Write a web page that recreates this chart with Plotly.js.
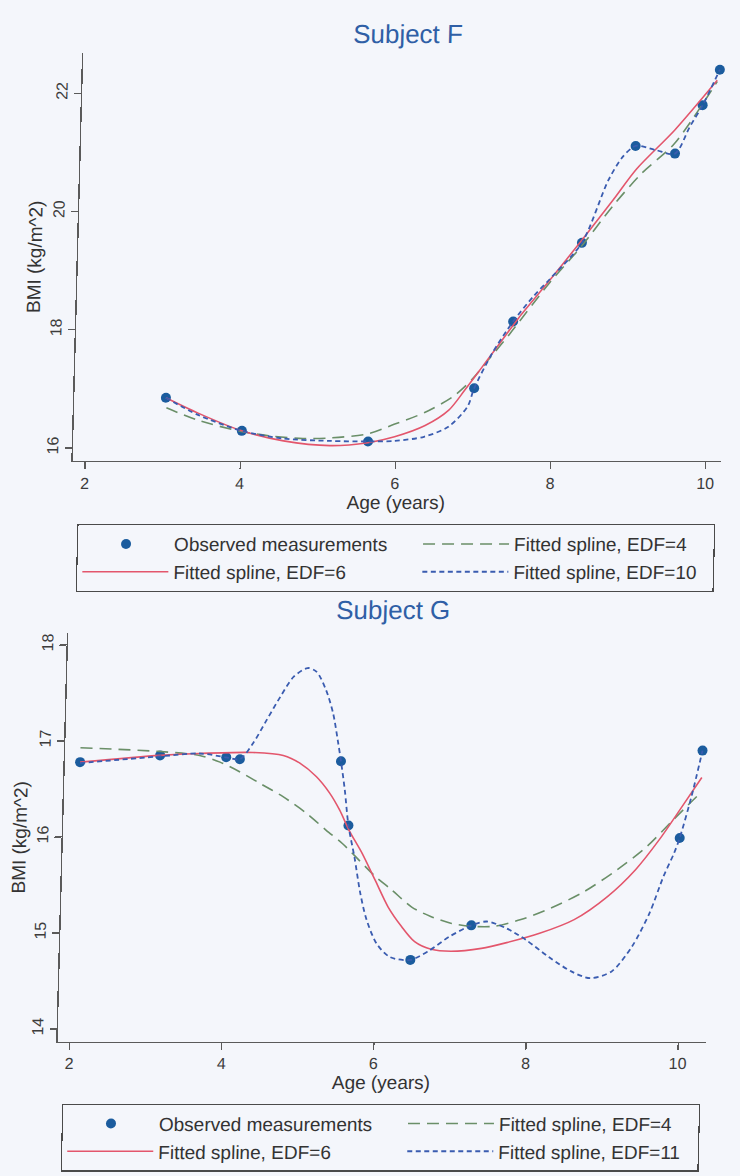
<!DOCTYPE html>
<html>
<head>
<meta charset="utf-8">
<script src="https://cdn.plot.ly/plotly-3.0.1.min.js"></script>
<style>
  html, body { margin: 0; padding: 0; background: #f4f6fb; overflow: hidden; }
  #chart { width: 740px; height: 1176px; transform: skewX(-1.49deg); transform-origin: 0 0; }
</style>
</head>
<body>
<div id="chart"></div>
<script>
// ---------- Subject F ----------
const ageF = [3.02, 4.01, 5.64, 6.99, 7.47, 8.33, 8.99, 9.50, 9.84, 10.05];
const bmiF = [16.85, 16.29, 16.11, 17.01, 18.14, 19.47, 21.11, 20.98, 21.80, 22.40];

const fitF4Age = [3.03, 3.44, 4.00, 4.40, 4.80, 5.15, 5.64, 5.97, 6.36, 6.72, 6.96, 7.20, 7.43, 7.93, 8.33, 8.72, 9.08, 9.49, 10.02];
const fitF4Bmi = [16.68, 16.47, 16.28, 16.20, 16.16, 16.17, 16.24, 16.40, 16.60, 16.87, 17.16, 17.55, 17.93, 18.80, 19.42, 20.10, 20.65, 21.15, 22.20];

const fitF6Age = [3.02, 3.44, 4.01, 4.55, 5.15, 5.64, 5.98, 6.37, 6.67, 6.87, 7.08, 7.31, 7.54, 7.93, 8.33, 8.72, 9.01, 9.49, 10.02];
const fitF6Bmi = [16.85, 16.59, 16.29, 16.12, 16.04, 16.09, 16.19, 16.38, 16.64, 16.98, 17.36, 17.78, 18.20, 18.84, 19.52, 20.20, 20.72, 21.38, 22.22];

const fitF10Age = [3.02, 3.44, 4.01, 4.55, 5.15, 5.64, 5.98, 6.36, 6.67, 6.91, 6.99, 7.21, 7.47, 7.72, 7.93, 8.33, 8.65, 8.83, 8.99, 9.25, 9.50, 9.68, 9.84, 10.05];
const fitF10Bmi = [16.85, 16.56, 16.29, 16.16, 16.12, 16.11, 16.12, 16.19, 16.36, 16.70, 17.01, 17.60, 18.14, 18.56, 18.86, 19.47, 20.53, 20.93, 21.11, 21.04, 20.98, 21.43, 21.80, 22.40];

// ---------- Subject G ----------
const ageG = [2.04, 3.09, 3.96, 4.14, 5.47, 5.59, 6.45, 7.24, 9.95, 10.22];
const bmiG = [16.78, 16.85, 16.83, 16.81, 16.79, 16.12, 14.72, 15.08, 15.99, 16.90];

const fitG4Age = [2.04, 3.09, 3.61, 3.88, 4.14, 4.41, 4.72, 5.03, 5.30, 5.52, 5.74, 5.96, 6.18, 6.45, 6.71, 6.98, 7.24, 7.54, 7.89, 8.28, 8.71, 9.14, 9.52, 9.86, 10.22];
const fitG4Bmi = [16.93, 16.89, 16.85, 16.78, 16.68, 16.56, 16.42, 16.25, 16.07, 15.93, 15.76, 15.59, 15.45, 15.27, 15.17, 15.10, 15.07, 15.07, 15.14, 15.26, 15.43, 15.66, 15.90, 16.18, 16.47];

const fitG6Age = [2.04, 3.09, 3.61, 4.31, 4.71, 4.93, 5.15, 5.33, 5.47, 5.60, 5.78, 5.96, 6.14, 6.32, 6.50, 6.72, 6.98, 7.38, 7.71, 8.15, 8.59, 9.02, 9.38, 9.68, 9.94, 10.22];
const fitG6Bmi = [16.78, 16.85, 16.87, 16.88, 16.85, 16.77, 16.63, 16.46, 16.28, 16.07, 15.83, 15.55, 15.27, 15.07, 14.91, 14.83, 14.81, 14.84, 14.90, 15.00, 15.14, 15.38, 15.66, 15.97, 16.28, 16.62];

const fitG11Age = [2.04, 3.09, 3.61, 3.96, 4.14, 4.31, 4.48, 4.65, 4.82, 5.00, 5.12, 5.25, 5.35, 5.42, 5.47, 5.53, 5.59, 5.68, 5.77, 5.86, 6.00, 6.18, 6.45, 6.70, 6.95, 7.24, 7.44, 7.70, 7.96, 8.27, 8.57, 8.82, 9.10, 9.36, 9.58, 9.75, 9.88, 9.95, 10.09, 10.22];
const fitG11Bmi = [16.77, 16.84, 16.87, 16.83, 16.81, 16.98, 17.22, 17.46, 17.67, 17.76, 17.72, 17.53, 17.29, 17.01, 16.79, 16.49, 16.12, 15.79, 15.41, 15.14, 14.89, 14.75, 14.72, 14.82, 14.96, 15.08, 15.12, 15.05, 14.93, 14.75, 14.60, 14.53, 14.60, 14.86, 15.21, 15.59, 15.83, 15.99, 16.42, 16.90];

const titles = ['Subject F', 'Subject G'];
const xTitle = 'Age (years)';
const yTitle = 'BMI (kg/m^2)';
const xTicks = [2, 4, 6, 8, 10];
const yTicksF = [16, 18, 20, 22];
const yTicksG = [14, 15, 16, 17, 18];
const nameObs = 'Observed measurements';
const namesF = ['Fitted spline, EDF=4', 'Fitted spline, EDF=6', 'Fitted spline, EDF=10'];
const namesG = ['Fitted spline, EDF=4', 'Fitted spline, EDF=6', 'Fitted spline, EDF=11'];

// ---------- styling ----------
const W = 740, H = 1176;
const BG = '#f4f6fb';
const FONT = 'Liberation Sans, Arial, Helvetica, sans-serif';
const cMarker = '#1b5c9e';
const cRed = '#e3566c';
const cGreen = '#6a8f68';
const cBlue = '#3a5cb0';
const cAxis = '#5a5a5a';
const cTitle = '#2f5fa6';

function px(x) { return x / W; }
function py(y) { return 1 - y / H; }

function obs(x, y, xa, ya, lg) {
  return { x, y, xaxis: xa, yaxis: ya, legend: lg, type: 'scatter', mode: 'markers', name: nameObs,
    marker: { color: cMarker, size: 10 }, legendwidth: 239 };
}
function fit(x, y, xa, ya, lg, name, color, dash, width, lw) {
  return { x, y, xaxis: xa, yaxis: ya, legend: lg, type: 'scatter', mode: 'lines', name,
    line: { color, dash, width, shape: 'spline', smoothing: 0.8 }, legendwidth: lw };
}

const traces = [
  obs(ageF, bmiF, 'x', 'y', 'legend'),
  fit(fitF4Age, fitF4Bmi, 'x', 'y', 'legend', namesF[0], cGreen, '12px,7px', 1.6, 194),
  fit(fitF6Age, fitF6Bmi, 'x', 'y', 'legend', namesF[1], cRed, 'solid', 1.6, 239),
  fit(fitF10Age, fitF10Bmi, 'x', 'y', 'legend', namesF[2], cBlue, '5px,3.5px', 1.8, 194),
  obs(ageG, bmiG, 'x2', 'y2', 'legend2'),
  fit(fitG4Age, fitG4Bmi, 'x2', 'y2', 'legend2', namesG[0], cGreen, '12px,7px', 1.6, 194),
  fit(fitG6Age, fitG6Bmi, 'x2', 'y2', 'legend2', namesG[1], cRed, 'solid', 1.6, 239),
  fit(fitG11Age, fitG11Bmi, 'x2', 'y2', 'legend2', namesG[2], cBlue, '5px,3.5px', 1.8, 194)
];

function xAxis(domain, range, anchor) {
  return { domain, range, anchor, tickvals: xTicks, ticks: 'outside', ticklen: 7, tickwidth: 1.2,
    tickcolor: cAxis, showline: true, linecolor: cAxis, linewidth: 1.4, showgrid: false, zeroline: false,
    tickfont: { family: FONT, size: 16, color: '#3c3c3c' },
    title: { text: xTitle, font: { family: FONT, size: 19, color: '#333' }, standoff: 4 } };
}
function yAxis(domain, range, anchor, ticks) {
  return { domain, range, anchor, tickvals: ticks, ticks: 'outside', ticklen: 7, tickwidth: 1.2,
    tickcolor: cAxis, showline: true, linecolor: cAxis, linewidth: 1.4, showgrid: false, zeroline: false,
    tickangle: -90, tickfont: { family: FONT, size: 16, color: '#3c3c3c' },
    title: { text: yTitle, font: { family: FONT, size: 19, color: '#333' }, standoff: 2 } };
}
function legendBox(top) {
  return { x: px(91), y: py(top), xanchor: 'left', yanchor: 'top', orientation: 'h',
    bgcolor: BG, bordercolor: '#4a4a4a', borderwidth: 1.2, itemwidth: 86, entrywidth: 239,
    traceorder: 'normal', font: { family: FONT, size: 19, color: '#333' } };
}

const layout = {
  width: W, height: H,
  margin: { l: 0, r: 0, t: 0, b: 0 },
  paper_bgcolor: BG, plot_bgcolor: BG,
  showlegend: true,
  xaxis: xAxis([px(84.7), px(733)], [1.84, 10.196], 'y'),
  yaxis: yAxis([py(461), py(52.7)], [15.78, 22.687], 'x', yTicksF),
  xaxis2: xAxis([px(84.7), px(733.6)], [1.84, 10.372], 'y2'),
  yaxis2: yAxis([py(1041.7), py(633)], [13.868, 18.125], 'x2', yTicksG),
  legend: legendBox(524),
  legend2: legendBox(1103.5),
  annotations: [
    { text: titles[0], xref: 'paper', yref: 'paper', x: px(409), y: py(34), xanchor: 'center', yanchor: 'middle',
      showarrow: false, font: { family: FONT, size: 26, color: cTitle } },
    { text: titles[1], xref: 'paper', yref: 'paper', x: px(409), y: py(610), xanchor: 'center', yanchor: 'middle',
      showarrow: false, font: { family: FONT, size: 26, color: cTitle } }
  ]
};

Plotly.newPlot('chart', traces, layout, { displayModeBar: false, staticPlot: true });
</script>
</body>
</html>
